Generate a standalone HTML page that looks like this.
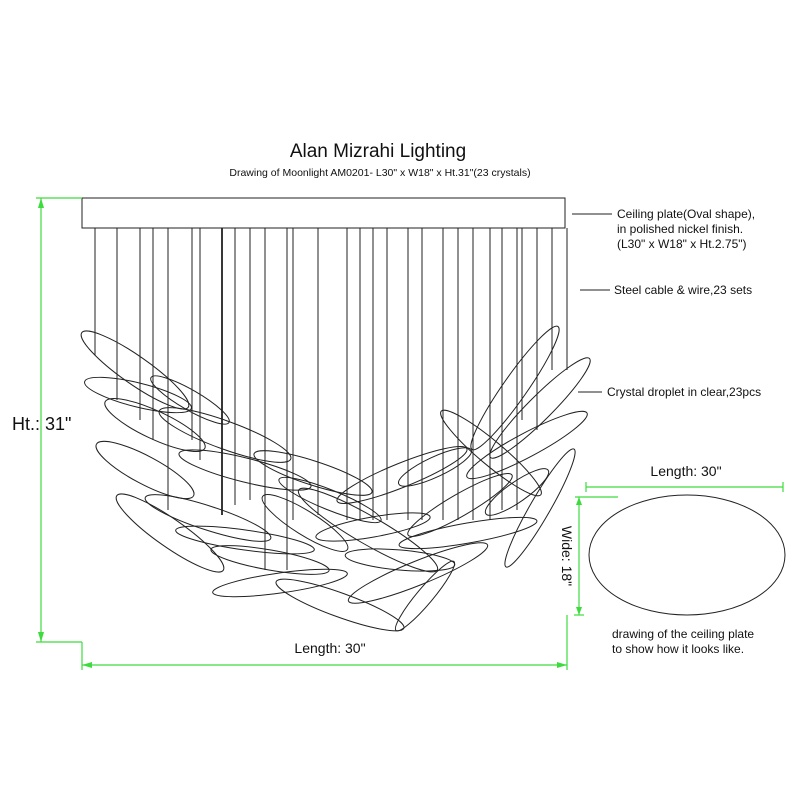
<!DOCTYPE html>
<html><head><meta charset="utf-8"><style>
body{margin:0;background:#fff}
svg{display:block}
text{font-family:"Liberation Sans",sans-serif;fill:#111}
</style></head><body>
<svg width="800" height="800" viewBox="0 0 800 800" xmlns="http://www.w3.org/2000/svg">
<text x="378" y="157" font-size="19" text-anchor="middle">Alan Mizrahi Lighting</text>
<text x="380" y="176" font-size="10.5" text-anchor="middle">Drawing of Moonlight AM0201- L30" x W18" x Ht.31"(23 crystals)</text>
<rect x="82" y="198" width="483" height="30" fill="none" stroke="#222" stroke-width="1"/>
<g stroke="#222" stroke-width="1">
<line x1="95" y1="228" x2="95" y2="355"/><line x1="117" y1="228" x2="117" y2="400"/>
<line x1="140" y1="228" x2="140" y2="420"/><line x1="153" y1="228" x2="153" y2="440"/>
<line x1="168" y1="228" x2="168" y2="510"/><line x1="192" y1="228" x2="192" y2="440"/>
<line x1="200" y1="228" x2="200" y2="460"/><line x1="222" y1="228" x2="222" y2="515" stroke-width="1.8"/>
<line x1="235" y1="228" x2="235" y2="505"/><line x1="250" y1="228" x2="250" y2="500"/>
<line x1="265" y1="228" x2="265" y2="570"/><line x1="287" y1="228" x2="287" y2="570"/>
<line x1="293" y1="228" x2="293" y2="520"/><line x1="318" y1="228" x2="318" y2="515"/>
<line x1="347" y1="228" x2="347" y2="520"/><line x1="360" y1="228" x2="360" y2="520"/>
<line x1="373" y1="228" x2="373" y2="520"/><line x1="387" y1="228" x2="387" y2="520"/>
<line x1="408" y1="228" x2="408" y2="520"/><line x1="422" y1="228" x2="422" y2="520"/>
<line x1="443" y1="228" x2="443" y2="520"/><line x1="458" y1="228" x2="458" y2="520"/>
<line x1="473" y1="228" x2="473" y2="520"/><line x1="490" y1="228" x2="490" y2="520"/>
<line x1="502" y1="228" x2="502" y2="510"/><line x1="517" y1="228" x2="517" y2="510"/>
<line x1="522" y1="228" x2="522" y2="420"/><line x1="537" y1="228" x2="537" y2="430"/>
<line x1="552" y1="228" x2="552" y2="370"/><line x1="567" y1="228" x2="567" y2="370"/>
</g>
<g fill="none" stroke="#222" stroke-width="1">
<ellipse rx="65" ry="14" transform="translate(135,370) rotate(35)"/>
<ellipse rx="55" ry="12" transform="translate(138,395) rotate(14)"/>
<ellipse rx="55" ry="14" transform="translate(155,425) rotate(25)"/>
<ellipse rx="55" ry="14" transform="translate(145,470) rotate(28)"/>
<ellipse rx="65" ry="14" transform="translate(170,533) rotate(35)"/>
<ellipse rx="70" ry="14" transform="translate(225,435) rotate(20)"/>
<ellipse rx="68" ry="12" transform="translate(245,470) rotate(14)"/>
<ellipse rx="66" ry="12" transform="translate(208,518) rotate(18)"/>
<ellipse rx="70" ry="10" transform="translate(245,540) rotate(8)"/>
<ellipse rx="62" ry="12" transform="translate(313,473) rotate(18)"/>
<ellipse rx="80" ry="14" transform="translate(368,530) rotate(30)"/>
<ellipse rx="68" ry="10" transform="translate(280,583) rotate(-8)"/>
<ellipse rx="68" ry="12" transform="translate(340,605) rotate(20)"/>
<ellipse rx="50" ry="12" transform="translate(305,523) rotate(32)"/>
<ellipse rx="75" ry="12" transform="translate(515,388) rotate(-55)"/>
<ellipse rx="70" ry="12" transform="translate(540,408) rotate(-45)"/>
<ellipse rx="65" ry="12" transform="translate(491,453) rotate(40)"/>
<ellipse rx="68" ry="12" transform="translate(527,445) rotate(-28)"/>
<ellipse rx="40" ry="10" transform="translate(435,467) rotate(-25)"/>
<ellipse rx="70" ry="12" transform="translate(402,475) rotate(-22)"/>
<ellipse rx="68" ry="10" transform="translate(540,508) rotate(-60)"/>
<ellipse rx="70" ry="10" transform="translate(468,533) rotate(-10)"/>
<ellipse rx="75" ry="12" transform="translate(418,573) rotate(-22)"/>
<ellipse rx="45" ry="8" transform="translate(425,596) rotate(-50)"/>
<ellipse rx="58" ry="10" transform="translate(373,527) rotate(-10)"/>
<ellipse rx="38" ry="10" transform="translate(517,492) rotate(-35)"/>
<ellipse rx="60" ry="10" transform="translate(270,560) rotate(10)"/>
<ellipse rx="55" ry="10" transform="translate(330,500) rotate(22)"/>
<ellipse rx="60" ry="11" transform="translate(460,505) rotate(-30)"/>
<ellipse rx="55" ry="10" transform="translate(400,560) rotate(5)"/>
<ellipse rx="45" ry="10" transform="translate(190,400) rotate(30)"/>
</g>
<g stroke="#222" stroke-width="1">
<line x1="572" y1="214" x2="612" y2="214"/>
<line x1="580" y1="290" x2="610" y2="290"/>
<line x1="578" y1="392" x2="602" y2="392"/>
</g>
<text x="617" y="218" font-size="12">Ceiling plate(Oval shape),</text>
<text x="617" y="233" font-size="12">in polished nickel finish.</text>
<text x="617" y="248" font-size="12">(L30" x W18" x Ht.2.75")</text>
<text x="614" y="294" font-size="12">Steel cable &amp; wire,23 sets</text>
<text x="607" y="396" font-size="12">Crystal droplet in clear,23pcs</text>
<g stroke="#3ddc3d" stroke-width="1.2" fill="none">
<line x1="41" y1="198" x2="41" y2="642"/>
<line x1="36" y1="198" x2="82" y2="198"/>
<line x1="36" y1="642" x2="82" y2="642"/>
<line x1="82" y1="642" x2="82" y2="670"/>
<line x1="567" y1="615" x2="567" y2="670"/>
<line x1="82" y1="665" x2="567" y2="665"/>
<line x1="586" y1="487" x2="783" y2="487"/>
<line x1="586" y1="482" x2="586" y2="492"/><line x1="783" y1="482" x2="783" y2="492"/>
<line x1="579" y1="497" x2="579" y2="615"/>
<line x1="575" y1="497" x2="618" y2="497"/>
<line x1="574" y1="615" x2="584" y2="615"/>
</g>
<g fill="#3ddc3d">
<polygon points="41,198 38,208 44,208"/><polygon points="41,642 38,632 44,632"/>
<polygon points="82,665 92,662 92,668"/><polygon points="567,665 557,662 557,668"/>
<polygon points="579,497 576,505 582,505"/><polygon points="579,615 576,607 582,607"/>
</g>
<rect x="0" y="410" width="38" height="26" fill="#fff"/>
<text x="12" y="430" font-size="18">Ht.: 31"</text>
<text x="330" y="653" font-size="14" text-anchor="middle">Length: 30"</text>
<text x="686" y="476" font-size="14" text-anchor="middle">Length: 30"</text>
<text font-size="14" text-anchor="middle" transform="translate(562,556) rotate(90)">Wide: 18"</text>
<ellipse cx="687" cy="555" rx="98" ry="60" fill="none" stroke="#222" stroke-width="1"/>
<text x="612" y="638" font-size="12">drawing of the ceiling plate</text>
<text x="612" y="653" font-size="12">to show how it looks like.</text>
</svg>
</body></html>
